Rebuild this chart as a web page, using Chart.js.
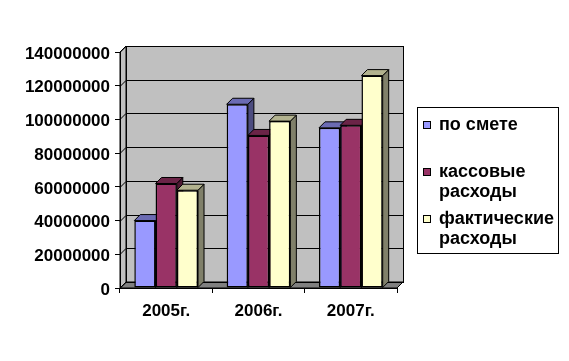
<!DOCTYPE html>
<html><head><meta charset="utf-8">
<script src="https://cdn.jsdelivr.net/npm/chart.js@4/dist/chart.umd.min.js"></script>
<style>html,body{margin:0;padding:0;background:#fff}#wrap{width:569px;height:361px}</style>
</head><body><div id="wrap"><canvas id="c" width="569" height="361"></canvas></div>
<script>
const categories = ["2005г.", "2006г.", "2007г."];
const seriesNames = ["по смете", "кассовые расходы", "фактические расходы"];
const legendLines = [["по смете"], ["кассовые", "расходы"], ["фактические", "расходы"]];
const poSmete = [40000000, 109000000, 95000000];
const kassovye = [62000000, 90500000, 96500000];
const fakticheskie = [58000000, 99000000, 126000000];
const yTicks = [0, 20000000, 40000000, 60000000, 80000000, 100000000, 120000000, 140000000];

const frontColors = ["#9999FF", "#993366", "#FFFFCC"];
const topColors = ["#6B6BB3", "#6B2447", "#B3B38F"];
const sideColors = ["#4D4D80", "#4D1A33", "#80806A"];
const DX = 6, DY = 6;
const FONT = "'Liberation Sans', Arial, sans-serif";

function poly(ctx, pts, fill) {
  ctx.beginPath();
  ctx.moveTo(pts[0][0], pts[0][1]);
  for (let i = 1; i < pts.length; i++) ctx.lineTo(pts[i][0], pts[i][1]);
  ctx.closePath();
  ctx.fillStyle = fill; ctx.fill();
  ctx.strokeStyle = "#000"; ctx.lineWidth = 1; ctx.stroke();
}

const wallPlugin = {
  id: "wall",
  beforeDraw(chart) {
    const ctx = chart.ctx, a = chart.chartArea, ys = chart.scales.y;
    ctx.save();
    ctx.fillStyle = "#C0C0C0";
    ctx.fillRect(a.left + DX, a.top - DY, a.right - a.left, a.bottom - a.top);
    poly(ctx, [[a.left, a.top], [a.left + DX, a.top - DY], [a.left + DX, a.bottom - DY], [a.left, a.bottom]], "#C0C0C0");
    poly(ctx, [[a.left, a.bottom], [a.left + DX, a.bottom - DY], [a.right + DX, a.bottom - DY], [a.right, a.bottom]], "#808080");
    ctx.strokeStyle = "#000"; ctx.lineWidth = 1;
    yTicks.forEach(v => {
      const y = Math.round(ys.getPixelForValue(v)) + 0.5;
      ctx.beginPath();
      ctx.moveTo(a.left, y); ctx.lineTo(a.left + DX, y - DY);
      if (v > 0) ctx.lineTo(a.right + DX, y - DY);
      ctx.stroke();
    });
    ctx.strokeRect(a.left + DX + 0.5, a.top - DY + 0.5, a.right - a.left, a.bottom - a.top);
    ctx.restore();
  },
  beforeDatasetsDraw(chart) {
    const ctx = chart.ctx;
    ctx.save();
    chart.data.datasets.forEach((ds, di) => {
      const meta = chart.getDatasetMeta(di);
      meta.data.forEach(el => {
        const l = el.x - el.width / 2, r = el.x + el.width / 2, t = el.y, b = el.base;
        poly(ctx, [[r, t], [r + DX, t - DY], [r + DX, b - DY], [r, b]], sideColors[di]);
        poly(ctx, [[l, t], [r, t], [r + DX, t - DY], [l + DX, t - DY]], topColors[di]);
      });
    });
    ctx.restore();
  },
  afterDraw(chart) {
    const ctx = chart.ctx;
    ctx.save();
    const bx = 417, by = 107, bw = 141, bh = 146;
    ctx.strokeStyle = "#000"; ctx.lineWidth = 1;
    ctx.strokeRect(bx + 0.5, by + 0.5, bw, bh);
    ctx.font = "bold 18px " + FONT;
    ctx.textBaseline = "middle"; ctx.textAlign = "left";
    legendLines.forEach((lines, i) => {
      const cy = 125 + i * 47;
      ctx.fillStyle = frontColors[i];
      ctx.fillRect(423, cy - 4, 8, 8);
      ctx.strokeStyle = "#000"; ctx.lineWidth = 1;
      ctx.strokeRect(423.5, cy - 3.5, 7, 7);
      ctx.fillStyle = "#000";
      lines.forEach((ln, k) => ctx.fillText(ln, 439, cy + k * 20));
    });
    ctx.restore();
  }
};

new Chart(document.getElementById("c"), {
  type: "bar",
  data: {
    labels: categories,
    datasets: [poSmete, kassovye, fakticheskie].map((d, i) => ({
      label: seriesNames[i],
      data: d,
      backgroundColor: frontColors[i],
      borderColor: "#000",
      borderWidth: 1.5,
      borderSkipped: false,
      categoryPercentage: 0.69,
      barPercentage: 1.0
    }))
  },
  options: {
    responsive: false,
    animation: false,
    devicePixelRatio: 1,
    layout: { padding: { left: 0, right: 172, top: 52, bottom: 33 } },
    plugins: { legend: { display: false }, tooltip: { enabled: false } },
    scales: {
      x: {
        grid: { display: true, drawOnChartArea: false, drawTicks: true, tickLength: 5, color: "#000", offset: true },
        border: { display: true, color: "#000", width: 1 },
        ticks: { color: "#000", font: { family: FONT, size: 17, weight: "bold" }, padding: 8, maxRotation: 0 },
        afterFit(s) { s.height = 40; }
      },
      y: {
        min: 0, max: 140000000,
        afterBuildTicks(s) { s.ticks = yTicks.map(v => ({ value: v })); },
        grid: { display: true, drawOnChartArea: false, drawTicks: true, tickLength: 5, color: "#000" },
        border: { display: true, color: "#000", width: 1 },
        ticks: { color: "#000", font: { family: FONT, size: 17, weight: "bold" }, padding: 5, labelOffset: 2, callback: v => String(v) },
        afterFit(s) { s.width = 120; }
      }
    }
  },
  plugins: [wallPlugin]
});
</script></body></html>
